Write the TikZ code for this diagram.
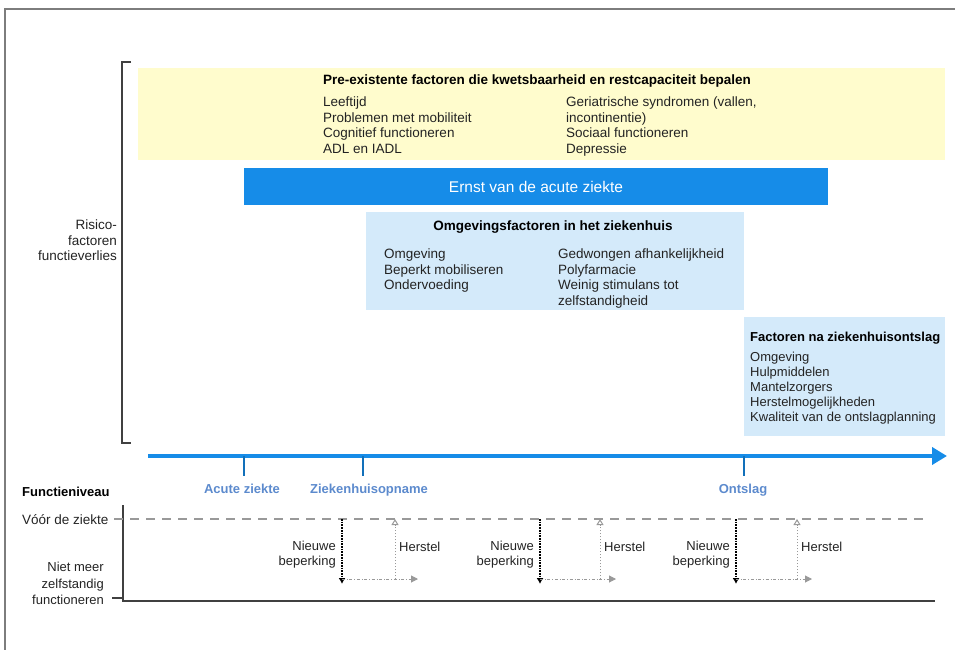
\documentclass[tikz,border=0pt]{standalone}
\usepackage{fontspec}
\setmainfont{Liberation Sans}
\usepackage{tikz}
\usetikzlibrary{arrows.meta}
\definecolor{paleyellow}{RGB}{255,252,205}
\definecolor{barblue}{RGB}{22,140,232}
\definecolor{paleblue}{RGB}{212,234,250}
\definecolor{tickblue}{RGB}{92,138,205}
\definecolor{framegray}{RGB}{125,125,125}
\definecolor{textgray}{RGB}{35,35,35}

\begin{document}
\begin{tikzpicture}[x=1pt, y=-1pt,
  txt/.style={inner sep=0pt, text=textgray, align=left, font=\fontsize{13.5}{15.5}\selectfont},
  ttl/.style={inner sep=0pt, text=black, font=\fontsize{13.5}{15.5}\selectfont\bfseries},
  boxfill/.style={inner sep=0pt, anchor=north west},
  ticklbl/.style={inner sep=0pt, text=tickblue, font=\fontsize{13}{15}\selectfont\bfseries}]

\useasboundingbox (0,0) rectangle (955,650);

% frame
\draw[framegray, line width=1.3pt] (5,650)--(5,9)--(955,9);

% bracket
\coordinate (BT) at (122, 62);
\coordinate (BB) at (122, 443);
\draw[black!75, line width=1.2pt] ([xshift=9pt]BT)--(BT)--(BB)--([xshift=9pt]BB);
\node[txt, align=right, anchor=north east] (risico) at (117, 220) {Risico-\\factoren\\functieverlies};

% boxes
\node[boxfill, fill=paleyellow, minimum width=807pt, minimum height=92pt] (pre) at (138, 68) {};
\node[boxfill, fill=barblue, minimum width=584pt, minimum height=37pt] (ernst) at (244, 168) {};
\node[boxfill, fill=paleblue, minimum width=378pt, minimum height=98pt] (omg) at (366, 212) {};
\node[boxfill, fill=paleblue, minimum width=201pt, minimum height=119pt] (na) at (744, 317) {};

% yellow box text
\node[ttl, anchor=base] (pretitle) at (537, 85) {Pre-existente factoren die kwetsbaarheid en restcapaciteit bepalen};
\node[txt, anchor=north west] (preleft) at (323, 97) {Leeftijd\\Problemen met mobiliteit\\Cognitief functioneren\\ADL en IADL};
\node[txt, anchor=north west] (preright) at (566, 97) {Geriatrische syndromen (vallen,\\incontinentie)\\Sociaal functioneren\\Depressie};

% ernst
\node[inner sep=0pt, text=white, font=\fontsize{15.5}{18}\selectfont, anchor=base] (ernsttxt) at (536, 192) {Ernst van de acute ziekte};

% omgeving
\node[ttl, anchor=base] (omgtitle) at (553, 230) {Omgevingsfactoren in het ziekenhuis};
\node[txt, anchor=north west] (omgleft) at (384, 249) {Omgeving\\Beperkt mobiliseren\\Ondervoeding};
\node[txt, anchor=north west] (omgright) at (558, 249) {Gedwongen afhankelijkheid\\Polyfarmacie\\Weinig stimulans tot\\zelfstandigheid};

% na ontslag
\node[ttl, font=\fontsize{13}{15}\selectfont\bfseries, anchor=base west] (natitle) at (750, 341) {Factoren na ziekenhuisontslag};
\node[txt, font=\fontsize{13}{15}\selectfont, anchor=north west] (nalist) at (750, 351.5) {Omgeving\\Hulpmiddelen\\Mantelzorgers\\Herstelmogelijkheden\\Kwaliteit van de ontslagplanning};

% timeline
\coordinate (T0) at (148, 456);
\coordinate (T1) at (947, 456);
\draw[barblue, line width=4pt, -{Triangle[length=15pt, width=17pt]}] (T0)--(T1);

\coordinate (acute) at (244, 456);
\coordinate (opname) at (363, 456);
\coordinate (ontslag) at (744, 456);
\draw[barblue!80!black, line width=2pt] (acute)--++(0,20);
\draw[barblue!80!black, line width=2pt] (opname)--++(0,20);
\draw[barblue!80!black, line width=2pt] (ontslag)--++(0,20);
\node[ticklbl, anchor=base] (acutelbl) at (242, 493) {Acute ziekte};
\node[ticklbl, anchor=base] (opnamelbl) at (369, 493) {Ziekenhuisopname};
\node[ticklbl, anchor=base] (ontslaglbl) at (743, 493) {Ontslag};

% function level
\node[ttl, font=\fontsize{13}{15}\selectfont\bfseries, anchor=base west] (niveau) at (22, 496) {Functieniveau};
\coordinate (Y0) at (123, 505);
\coordinate (O) at (123, 601);
\coordinate (X1) at (935, 601);
\draw[black!75, line width=1.5pt] (Y0)--(O)--(X1);

\node[txt, anchor=base west] (voor) at (22, 524) {Vóór de ziekte};
\coordinate (V0) at (114, 519);
\coordinate (V1) at (930, 519);
\draw[black!40, line width=1.6pt, dash pattern=on 9pt off 7pt] (V0)--(V1);

\node[txt, align=right, anchor=north east, font=\fontsize{13}{16.5}\selectfont] (niet) at (104, 562) {Niet meer\\zelfstandig\\functioneren};
\draw[black!75, line width=1.2pt] (112,598)--(O |- 0,598);

\foreach \d/\u/\n in {342/395/1, 540/600/2, 736/797/3} {
  \coordinate (dtop\n) at (\d, 519);
  \coordinate (dbot\n) at (\d, 584);
  \coordinate (hbeg\n) at (\d, 579);
  \coordinate (hend\n) at (\d+76, 579);
  \coordinate (utop\n) at (\u, 519);
  \coordinate (ubot\n) at (\u, 579);
  \draw[black, densely dotted, line width=1.7pt, -{Latex[length=6pt, width=7pt]}] (dtop\n)--(dbot\n);
  \draw[black!40, dotted, line width=1pt, -{Triangle[open, length=6pt, width=7pt]}] (ubot\n)--(utop\n);
  \draw[black!40, dash dot, line width=1pt, -{Triangle[length=7pt, width=7pt]}] (hbeg\n)--(hend\n);
  \node[txt, align=right, anchor=north east, font=\fontsize{13}{15}\selectfont] (nieuw\n) at (\d-6, 541) {Nieuwe\\beperking};
  \node[txt, anchor=base west, font=\fontsize{13}{15}\selectfont] (herstel\n) at (\u+4, 551) {Herstel};
}

\end{tikzpicture}
\end{document}
